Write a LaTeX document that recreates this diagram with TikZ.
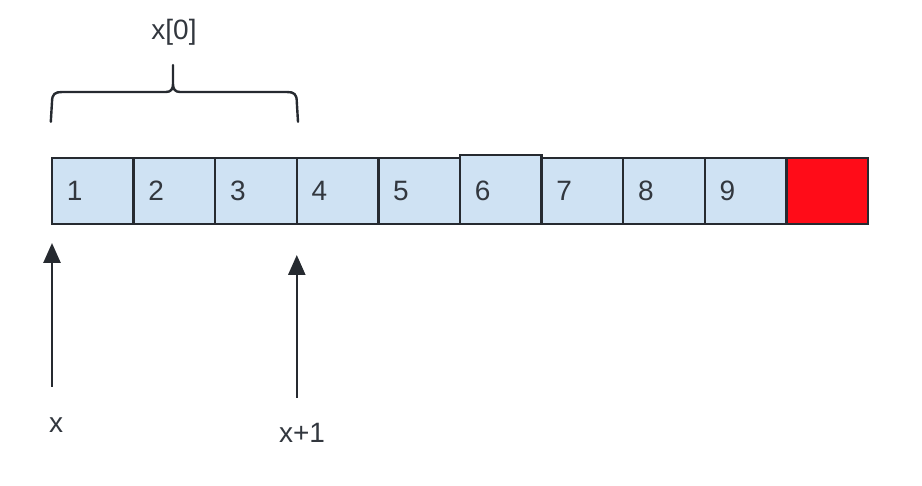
\documentclass[tikz,border=0pt]{standalone}
\usepackage{fontspec}
\setmainfont{Liberation Sans}
\usepackage{tikz}
\usetikzlibrary{arrows.meta, positioning, calc}
\usepackage{xcolor}
\definecolor{cCell}{RGB}{207,226,243}
\definecolor{cRed}{RGB}{255,12,24}
\definecolor{cLine}{RGB}{38,42,48}
\definecolor{cText}{RGB}{50,55,62}
\tikzset{
  cellbox/.style={rectangle, draw=cLine, line width=1.2pt, fill=cCell,
                  minimum width=40.8pt, minimum height=33pt,
                  text width=26pt, inner xsep=7.4pt, align=left,
                  text=cText, font=\fontsize{14}{16}\selectfont},
  endbox/.style={cellbox, fill=cRed},
  lbl/.style={text=cText, font=\fontsize{14}{16}\selectfont, inner sep=1pt},
  bracepath/.style={draw=cLine, line width=1.2pt, line cap=round},
  ptrarrow/.style={-{Triangle[length=10pt,width=8.5pt]}, line width=1.3pt,
                   color=cLine}
}
\begin{document}
\begin{tikzpicture}[x=0.5pt, y=-0.5pt]
  \useasboundingbox (0,0) rectangle (922,486);

  % the array
  \foreach \i in {1,...,9}
    \node[cellbox] (c\i) at ({92.8+81.6*(\i-1)}, 191) {\i};
  \node[cellbox, minimum height=34.5pt] (c6) at (500.8, 189.5)
    {\raisebox{-0.75pt}[\height][0pt]{6}};
  \node[endbox] (c10) at (827.2, 191) {};

  % brace over the first element
  \coordinate (bl) at ($(c1.north west)+(0,-35)$);
  \coordinate (br) at ($(c3.north east)+(0,-35)$);
  \draw[bracepath] (bl) -- (52,102) .. controls (52,94) and (55,92) .. (62,92)
    -- (166,92) .. controls (171,92) and (173,89) .. (173,84) -- (173,65)
    (173,84) .. controls (173,89) and (175,92) .. (180,92) -- (287,92)
    .. controls (294,92) and (296.8,94) .. (296.8,102) -- (br);
  \node[lbl] (x0) at (174,32) {x[0]};

  % pointers
  \coordinate (t1) at (52,387);
  \coordinate (h1) at (52,243);
  \coordinate (t2) at (296.8,398);
  \coordinate (h2) at (296.8,255);
  \draw[ptrarrow] (t1) -- (h1);
  \draw[ptrarrow] (t2) -- (h2);
  \node[lbl] (px) at (56,425) {x};
  \node[lbl] (px1) at (302,433) {x+1};
\end{tikzpicture}
\end{document}
